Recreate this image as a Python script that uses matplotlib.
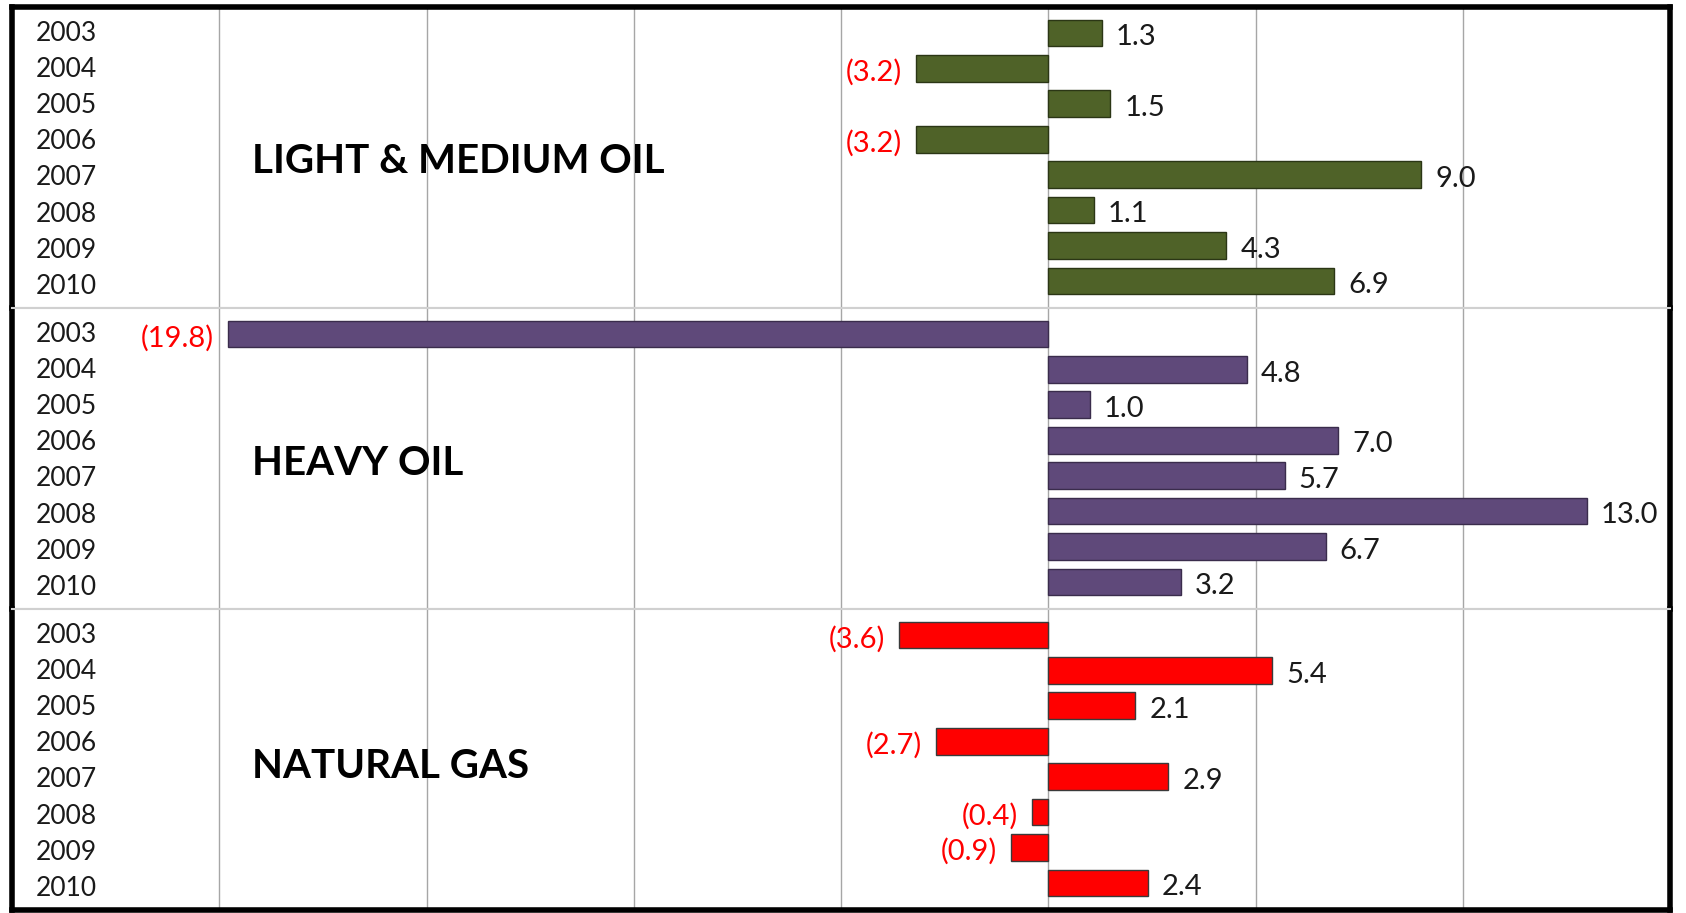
import matplotlib.pyplot as plt
from matplotlib.transforms import blended_transform_factory

plt.rcParams["font.family"] = ["Lato", "DejaVu Sans"]

years = ["2003", "2004", "2005", "2006", "2007", "2008", "2009", "2010"]
groups = ["LIGHT & MEDIUM OIL", "HEAVY OIL", "NATURAL GAS"]
light_medium = [1.3, -3.2, 1.5, -3.2, 9.0, 1.1, 4.3, 6.9]
heavy = [-19.8, 4.8, 1.0, 7.0, 5.7, 13.0, 6.7, 3.2]
gas = [-3.6, 5.4, 2.1, -2.7, 2.9, -0.4, -0.9, 2.4]
colors = ["#4F6228", "#5F497A", "#FF0000"]
edges = ["#2B3615", "#3A2C4C", "#3A3A3A"]


def fmt(v):
    if v < 0:
        return "(%.1f)" % abs(v)
    return "%.1f" % v


fig = plt.figure(figsize=(16.86, 9.13), dpi=100)
left, right, top, bottom = 12 / 1686, 1670 / 1686, 1 - 7 / 913, 1 - 910 / 913
h = (top - bottom) / 3

for i, (name, vals) in enumerate(zip(groups, [light_medium, heavy, gas])):
    ax = fig.add_axes([left, top - (i + 1) * h, right - left, h])
    ypos = list(range(len(years)))
    ax.barh(ypos, vals, height=0.75, color=colors[i], edgecolor=edges[i],
            linewidth=1.0, zorder=3)
    ax.set_xlim(-25, 15)
    ax.set_ylim(7.76, -0.73)
    ax.set_xticks([-20, -15, -10, -5, 0, 5, 10])
    ax.set_yticks([])
    ax.grid(axis="x", color="#A6A6A6", linewidth=1.0, zorder=0)
    ax.tick_params(axis="x", length=0, labelbottom=False)

    trans = blended_transform_factory(ax.transAxes, ax.transData)
    # year labels sit on a slightly wider pitch than the bars
    for y, yr in zip(ypos, years):
        ax.text(0.0145, (y - 3.5) * 1.02 + 3.58, yr, transform=trans,
                ha="left", va="center", fontsize=19, color="#1A1A1A")

    for y, v in zip(ypos, vals):
        if v < 0:
            ax.annotate(fmt(v), (v, y), xytext=(-10, -3), textcoords="offset points",
                        ha="right", va="center", fontsize=21, color="#FF0000")
        else:
            ax.annotate(fmt(v), (v, y), xytext=(10, -3), textcoords="offset points",
                        ha="left", va="center", fontsize=21, color="#1A1A1A")

    ax.text(0.1445, 3.62 + 0.04 * i, name, transform=trans,
            ha="left", va="center", fontsize=29, fontweight="bold", color="black")

    for side in ["left", "right"]:
        ax.spines[side].set_linewidth(4)
        ax.spines[side].set_color("black")
    ax.spines["top"].set_color("#D0D0D0")
    ax.spines["top"].set_linewidth(1.5)
    ax.spines["bottom"].set_color("#D0D0D0")
    ax.spines["bottom"].set_linewidth(1.5)
    if i == 0:
        ax.spines["top"].set_color("black")
        ax.spines["top"].set_linewidth(4)
    if i == 2:
        ax.spines["bottom"].set_color("black")
        ax.spines["bottom"].set_linewidth(4)

fig.savefig("out.png", dpi=100)
